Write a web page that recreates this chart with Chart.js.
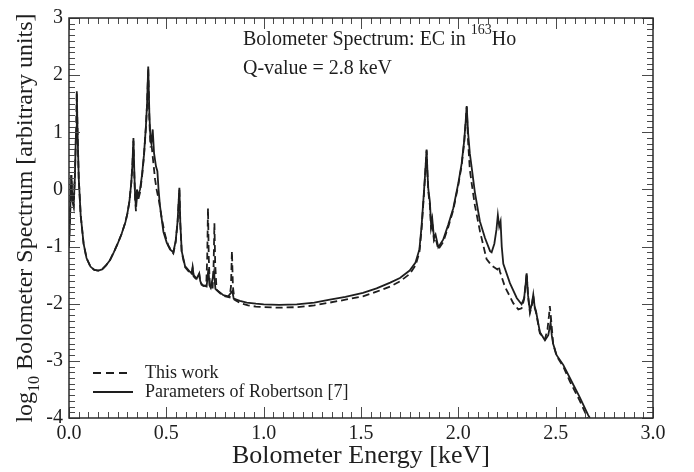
<!DOCTYPE html>
<html lang="en">
<head>
<meta charset="UTF-8">
<title>Bolometer Spectrum: EC in 163Ho</title>
<script src="https://cdn.jsdelivr.net/npm/chart.js"></script>
<style>
  body { margin: 0; background: #fff; }
</style>
</head>
<body>
<canvas id="spectrum" width="694" height="472"></canvas>
<script>
  // solid line: parameters of Robertson [7]
  const robertsonE = [
    0.000, 0.006, 0.012, 0.018, 0.024, 0.030, 0.036, 0.040, 0.044, 0.050,
    0.060, 0.075, 0.090, 0.110, 0.130, 0.150, 0.170, 0.190, 0.210, 0.230,
    0.250, 0.270, 0.290, 0.300, 0.310, 0.320, 0.326, 0.331, 0.336, 0.340,
    0.344, 0.349, 0.354, 0.365, 0.375, 0.385, 0.395, 0.401, 0.407, 0.413,
    0.419, 0.423, 0.430, 0.437, 0.447, 0.454, 0.460, 0.467, 0.485, 0.502,
    0.519, 0.536, 0.548, 0.558, 0.567, 0.572, 0.579, 0.596, 0.621, 0.630,
    0.635, 0.640, 0.656, 0.669, 0.674, 0.681, 0.707, 0.716, 0.722, 0.728,
    0.745, 0.752, 0.767, 0.793, 0.818, 0.839, 0.846, 0.878, 0.913, 0.960,
    1.000, 1.080, 1.170, 1.260, 1.340, 1.420, 1.510, 1.580, 1.650, 1.700,
    1.750, 1.780, 1.800, 1.811, 1.823, 1.830, 1.837, 1.842, 1.846, 1.854,
    1.860, 1.866, 1.875, 1.883, 1.897, 1.922, 1.948, 1.974, 2.000, 2.017,
    2.030, 2.038, 2.043, 2.050, 2.059, 2.068, 2.085, 2.111, 2.137, 2.163,
    2.171, 2.185, 2.196, 2.203, 2.210, 2.217, 2.223, 2.231, 2.265, 2.300,
    2.325, 2.338, 2.346, 2.351, 2.358, 2.368, 2.378, 2.385, 2.392, 2.399,
    2.419, 2.445, 2.462, 2.474, 2.480, 2.487, 2.505, 2.539, 2.573, 2.624,
    2.667, 2.676
  ];
  const robertsonLog = [
    -1.00, -0.40, 0.25, -0.20, -0.28, 0.20, 1.00, 1.72, 1.00, 0.20,
    -0.45, -0.95, -1.20, -1.35, -1.41, -1.42, -1.40, -1.33, -1.24, -1.10,
    -0.95, -0.78, -0.57, -0.42, -0.22, 0.12, 0.45, 0.90, 0.25, -0.15,
    -0.30, 0.00, -0.12, 0.00, 0.25, 0.60, 1.10, 1.50, 2.15, 1.30,
    0.85, 0.80, 1.05, 0.63, 0.40, 0.32, 0.00, -0.28, -0.74, -0.93,
    -1.05, -1.10, -0.90, -0.55, 0.03, -0.60, -1.08, -1.34, -1.44, -1.47,
    -1.36, -1.50, -1.56, -1.47, -1.60, -1.67, -1.70, -1.39, -1.68, -1.72,
    -1.44, -1.74, -1.78, -1.85, -1.87, -1.78, -1.91, -1.95, -1.98, -2.00,
    -2.01, -2.02, -2.01, -1.98, -1.93, -1.88, -1.81, -1.73, -1.63, -1.55,
    -1.42, -1.28, -1.05, -0.65, -0.06, 0.30, 0.70, 0.25, 0.00, -0.22,
    -0.62, -0.51, -0.85, -0.79, -1.01, -0.88, -0.62, -0.33, 0.11, 0.45,
    0.85, 1.20, 1.46, 1.00, 0.63, 0.40, -0.05, -0.56, -0.85, -1.08,
    -1.10, -0.95, -0.70, -0.45, -0.65, -0.56, -1.00, -1.30, -1.64, -1.90,
    -2.01, -1.90, -1.65, -1.47, -1.85, -2.13, -2.00, -1.84, -2.05, -2.13,
    -2.50, -2.64, -2.55, -2.33, -2.55, -2.70, -2.90, -3.07, -3.30, -3.64,
    -3.95, -4.00
  ];

  // dashed line: this work
  const thisWorkE = [
    0.000, 0.006, 0.012, 0.018, 0.024, 0.030, 0.036, 0.040, 0.044, 0.050,
    0.060, 0.075, 0.090, 0.110, 0.130, 0.150, 0.170, 0.190, 0.210, 0.230,
    0.250, 0.270, 0.290, 0.300, 0.310, 0.320, 0.326, 0.331, 0.336, 0.340,
    0.344, 0.349, 0.354, 0.365, 0.375, 0.385, 0.395, 0.401, 0.407, 0.413,
    0.419, 0.425, 0.430, 0.442, 0.450, 0.464, 0.476, 0.493, 0.510, 0.525,
    0.536, 0.548, 0.558, 0.567, 0.572, 0.579, 0.596, 0.621, 0.630, 0.635,
    0.640, 0.656, 0.669, 0.674, 0.690, 0.705, 0.710, 0.714, 0.718, 0.724,
    0.738, 0.743, 0.747, 0.751, 0.758, 0.790, 0.825, 0.832, 0.837, 0.842,
    0.850, 0.880, 0.920, 0.960, 1.000, 1.080, 1.170, 1.260, 1.340, 1.420,
    1.510, 1.580, 1.650, 1.700, 1.750, 1.780, 1.800, 1.811, 1.823, 1.830,
    1.837, 1.842, 1.846, 1.854, 1.860, 1.866, 1.875, 1.883, 1.897, 1.922,
    1.948, 1.974, 2.000, 2.017, 2.030, 2.038, 2.043, 2.050, 2.059, 2.068,
    2.085, 2.111, 2.145, 2.171, 2.200, 2.207, 2.214, 2.239, 2.282, 2.308,
    2.325, 2.338, 2.346, 2.351, 2.358, 2.368, 2.378, 2.385, 2.392, 2.399,
    2.419, 2.445, 2.458, 2.466, 2.470, 2.476, 2.487, 2.505, 2.539, 2.573,
    2.624, 2.664
  ];
  const thisWorkLog = [
    -1.00, -0.40, 0.25, -0.20, -0.30, 0.20, 1.00, 1.70, 1.00, 0.20,
    -0.45, -0.95, -1.20, -1.35, -1.41, -1.42, -1.40, -1.33, -1.24, -1.10,
    -0.95, -0.78, -0.57, -0.42, -0.22, 0.12, 0.45, 0.85, 0.20, -0.20,
    -0.38, -0.08, -0.20, -0.05, 0.22, 0.58, 1.08, 1.48, 2.12, 1.20,
    0.75, 0.75, 0.58, 0.18, 0.00, -0.23, -0.50, -0.79, -0.98, -1.07,
    -1.12, -0.92, -0.57, 0.00, -0.62, -1.10, -1.36, -1.46, -1.49, -1.38,
    -1.52, -1.58, -1.49, -1.62, -1.69, -1.68, -1.20, -0.33, -1.20, -1.72,
    -1.72, -1.30, -0.59, -1.30, -1.76, -1.86, -1.89, -1.70, -1.08, -1.70,
    -1.93, -1.99, -2.03, -2.05, -2.06, -2.07, -2.06, -2.03, -1.98, -1.93,
    -1.87, -1.79, -1.70, -1.61, -1.48, -1.33, -1.10, -0.70, -0.10, 0.28,
    0.68, 0.22, -0.05, -0.28, -0.68, -0.58, -0.90, -0.85, -1.05, -0.92,
    -0.66, -0.36, 0.08, 0.42, 0.82, 1.18, 1.44, 0.85, 0.35, 0.12,
    -0.28, -0.73, -1.22, -1.33, -1.40, -1.34, -1.44, -1.70, -1.99, -2.10,
    -2.08, -1.92, -1.65, -1.47, -1.87, -2.16, -2.02, -1.86, -2.07, -2.15,
    -2.52, -2.62, -2.45, -2.20, -2.04, -2.25, -2.70, -2.92, -3.10, -3.36,
    -3.70, -4.00
  ];

  const xTickLabels = ['0.0', '0.5', '1.0', '1.5', '2.0', '2.5', '3.0'];
  const yTickLabels = ['-4', '-3', '-2', '-1', '0', '1', '2', '3'];

  const serif = '"Liberation Serif", "DejaVu Serif", serif';
  const ink = '#1e1e1e';

  function points(xs, ys) {
    return xs.map((v, i) => ({ x: v, y: ys[i] }));
  }

  // inward ticks on all four sides, frame, titles, notes and legend
  const decor = {
    id: 'decor',
    afterDraw(chart) {
      const { ctx, chartArea: a, scales: { x, y } } = chart;
      ctx.save();
      ctx.strokeStyle = '#4a4a4a';
      ctx.lineWidth = 1;
      for (let i = 0; i <= 60; i++) {
        const px = Math.round(x.getPixelForValue(i * 0.05)) + 0.5;
        const len = i % 10 === 0 ? 11 : 6;
        ctx.beginPath();
        ctx.moveTo(px, a.bottom); ctx.lineTo(px, a.bottom - len);
        ctx.moveTo(px, a.top); ctx.lineTo(px, a.top + len);
        ctx.stroke();
      }
      for (let i = 0; i <= 70; i++) {
        const py = Math.round(y.getPixelForValue(-4 + i * 0.1)) + 0.5;
        const len = i % 10 === 0 ? 11 : 6;
        ctx.beginPath();
        ctx.moveTo(a.left, py); ctx.lineTo(a.left + len, py);
        ctx.moveTo(a.right, py); ctx.lineTo(a.right - len, py);
        ctx.stroke();
      }
      ctx.strokeStyle = '#2a2a2a';
      ctx.lineWidth = 1.5;
      ctx.strokeRect(a.left, a.top, a.right - a.left, a.bottom - a.top);

      ctx.fillStyle = ink;
      ctx.textBaseline = 'alphabetic';

      // x title
      ctx.font = '26px ' + serif;
      ctx.textAlign = 'center';
      ctx.fillText('Bolometer Energy [keV]', (a.left + a.right) / 2, 463);

      // y title with subscript
      ctx.save();
      ctx.translate(32, (a.top + a.bottom) / 2);
      ctx.rotate(-Math.PI / 2);
      ctx.textAlign = 'left';
      const big = '24px ' + serif, small = '16px ' + serif;
      const rest = ' Bolometer Spectrum [arbitrary units]';
      ctx.font = big;
      const w1 = ctx.measureText('log').width;
      const w3 = ctx.measureText(rest).width;
      ctx.font = small;
      const w2 = ctx.measureText('10').width;
      let sx = -(w1 + w2 + w3) / 2;
      ctx.font = big;
      ctx.fillText('log', sx, 0);
      ctx.font = small;
      ctx.fillText('10', sx + w1, 7);
      ctx.font = big;
      ctx.fillText(rest, sx + w1 + w2, 0);
      ctx.restore();

      // notes
      ctx.textAlign = 'left';
      ctx.font = '20px ' + serif;
      const note = 'Bolometer Spectrum: EC in ';
      ctx.fillText(note, 243, 45);
      let nx = 243 + ctx.measureText(note).width;
      ctx.font = '14px ' + serif;
      ctx.fillText('163', nx, 34);
      nx += ctx.measureText('163').width;
      ctx.font = '20px ' + serif;
      ctx.fillText('Ho', nx, 45);
      ctx.fillText('Q-value = 2.8 keV', 243, 74);

      // legend
      ctx.lineWidth = 1.8;
      ctx.strokeStyle = ink;
      ctx.setLineDash([8, 5]);
      ctx.beginPath(); ctx.moveTo(93, 373); ctx.lineTo(131, 373); ctx.stroke();
      ctx.setLineDash([]);
      ctx.beginPath(); ctx.moveTo(93, 392); ctx.lineTo(133, 392); ctx.stroke();
      ctx.font = '18px ' + serif;
      ctx.textBaseline = 'middle';
      ctx.fillText('This work', 145, 373);
      ctx.fillText('Parameters of Robertson [7]', 145, 392);
      ctx.restore();
    }
  };

  new Chart(document.getElementById('spectrum'), {
    type: 'line',
    data: {
      datasets: [
        {
          label: 'This work',
          data: points(thisWorkE, thisWorkLog),
          borderColor: ink,
          borderWidth: 1.8,
          borderDash: [7, 4]
        },
        {
          label: 'Parameters of Robertson [7]',
          data: points(robertsonE, robertsonLog),
          borderColor: ink,
          borderWidth: 1.8
        }
      ]
    },
    options: {
      responsive: false,
      animation: false,
      parsing: false,
      layout: { padding: { top: 8, right: 41, left: 0, bottom: 0 } },
      elements: { point: { radius: 0 }, line: { tension: 0 } },
      plugins: { legend: { display: false }, tooltip: { enabled: false } },
      scales: {
        x: {
          type: 'linear',
          min: 0, max: 3,
          grid: { display: false, drawTicks: false },
          border: { display: false },
          ticks: {
            stepSize: 0.5,
            padding: 4,
            color: ink,
            font: { family: serif, size: 20 },
            callback: (v, i) => xTickLabels[i]
          },
          afterFit: s => { s.height = 54; }
        },
        y: {
          min: -4, max: 3,
          grid: { display: false, drawTicks: false },
          border: { display: false },
          ticks: {
            stepSize: 1,
            padding: 6,
            color: ink,
            font: { family: serif, size: 20 },
            callback: (v, i) => yTickLabels[i]
          },
          afterFit: s => { s.width = 69; }
        }
      }
    },
    plugins: [decor]
  });
</script>
</body>
</html>
